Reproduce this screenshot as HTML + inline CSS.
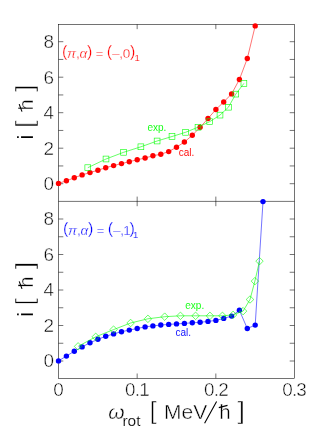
<!DOCTYPE html>
<html><head><meta charset="utf-8"><title>plot</title>
<style>html,body{margin:0;padding:0;background:#fff}svg{display:block;will-change:transform}</style>
</head><body>
<svg width="332" height="438" viewBox="0 0 332 438">
<rect width="332" height="438" fill="#fff"/>
<g stroke="#000" stroke-width="0.55" fill="none">
<rect x="58.5" y="24.35" width="236.00" height="353.95"/>
<line x1="58.5" y1="201.4" x2="294.5" y2="201.4"/>
<path d="M58.5 183.70h4.8M294.5 183.70h-4.8M58.5 165.95h4.8M294.5 165.95h-4.8M58.5 148.20h4.8M294.5 148.20h-4.8M58.5 130.45h4.8M294.5 130.45h-4.8M58.5 112.70h4.8M294.5 112.70h-4.8M58.5 94.95h4.8M294.5 94.95h-4.8M58.5 77.20h4.8M294.5 77.20h-4.8M58.5 59.45h4.8M294.5 59.45h-4.8M58.5 41.70h4.8M294.5 41.70h-4.8M58.5 361.00h4.8M294.5 361.00h-4.8M58.5 343.25h4.8M294.5 343.25h-4.8M58.5 325.50h4.8M294.5 325.50h-4.8M58.5 307.75h4.8M294.5 307.75h-4.8M58.5 290.00h4.8M294.5 290.00h-4.8M58.5 272.25h4.8M294.5 272.25h-4.8M58.5 254.50h4.8M294.5 254.50h-4.8M58.5 236.75h4.8M294.5 236.75h-4.8M58.5 219.00h4.8M294.5 219.00h-4.8M137.17 24.35v4.8M137.17 196.6v9.6M137.17 378.3v-4.8M215.83 24.35v4.8M215.83 196.6v9.6M215.83 378.3v-4.8"/>
</g>
<polyline fill="none" stroke="#f00" stroke-width="0.55" points="58.5,183.4 66.4,180.8 74.3,177.8 82.1,174.9 90.0,172.6 97.9,170.2 105.7,167.7 113.6,165.6 121.5,163.6 129.3,161.7 137.2,159.8 145.1,158.0 152.9,155.8 160.8,154.2 168.7,151.6 176.5,147.2 184.4,142.0 192.3,135.3 200.1,127.3 208.0,118.5 215.9,109.5 223.7,102.0 231.6,93.9 239.4,79.5 247.3,58.5 255.2,25.9"/>
<g fill="#f00">
<circle cx="58.5" cy="183.4" r="2.7"/>
<circle cx="66.4" cy="180.8" r="2.7"/>
<circle cx="74.3" cy="177.8" r="2.7"/>
<circle cx="82.1" cy="174.9" r="2.7"/>
<circle cx="90.0" cy="172.6" r="2.7"/>
<circle cx="97.9" cy="170.2" r="2.7"/>
<circle cx="105.7" cy="167.7" r="2.7"/>
<circle cx="113.6" cy="165.6" r="2.7"/>
<circle cx="121.5" cy="163.6" r="2.7"/>
<circle cx="129.3" cy="161.7" r="2.7"/>
<circle cx="137.2" cy="159.8" r="2.7"/>
<circle cx="145.1" cy="158.0" r="2.7"/>
<circle cx="152.9" cy="155.8" r="2.7"/>
<circle cx="160.8" cy="154.2" r="2.7"/>
<circle cx="168.7" cy="151.6" r="2.7"/>
<circle cx="176.5" cy="147.2" r="2.7"/>
<circle cx="184.4" cy="142.0" r="2.7"/>
<circle cx="192.3" cy="135.3" r="2.7"/>
<circle cx="200.1" cy="127.3" r="2.7"/>
<circle cx="208.0" cy="118.5" r="2.7"/>
<circle cx="215.9" cy="109.5" r="2.7"/>
<circle cx="223.7" cy="102.0" r="2.7"/>
<circle cx="231.6" cy="93.9" r="2.7"/>
<circle cx="239.4" cy="79.5" r="2.7"/>
<circle cx="247.3" cy="58.5" r="2.7"/>
<circle cx="255.2" cy="25.9" r="2.7"/>
</g>
<polyline fill="none" stroke="#0f0" stroke-width="0.6" points="87.8,167.7 106.0,159.0 123.6,152.3 140.9,146.8 157.1,141.0 172.0,136.5 185.6,132.3 198.0,127.2 209.7,121.7 220.0,115.1 228.4,107.2 235.8,94.1 243.9,83.4"/>
<g fill="none" stroke="#0f0" stroke-width="0.6">
<rect x="84.9" y="164.8" width="5.8" height="5.8"/>
<rect x="103.1" y="156.1" width="5.8" height="5.8"/>
<rect x="120.7" y="149.4" width="5.8" height="5.8"/>
<rect x="138.0" y="143.9" width="5.8" height="5.8"/>
<rect x="154.2" y="138.1" width="5.8" height="5.8"/>
<rect x="169.1" y="133.6" width="5.8" height="5.8"/>
<rect x="182.7" y="129.4" width="5.8" height="5.8"/>
<rect x="195.1" y="124.3" width="5.8" height="5.8"/>
<rect x="206.8" y="118.8" width="5.8" height="5.8"/>
<rect x="217.1" y="112.2" width="5.8" height="5.8"/>
<rect x="225.5" y="104.3" width="5.8" height="5.8"/>
<rect x="232.9" y="91.2" width="5.8" height="5.8"/>
<rect x="241.0" y="80.5" width="5.8" height="5.8"/>
</g>
<polyline fill="none" stroke="#00f" stroke-width="0.55" points="58.5,360.9 66.4,356.1 74.3,351.2 82.1,346.9 90.0,342.8 97.9,339.3 105.7,336.3 113.6,333.9 121.5,331.7 129.3,330.1 137.2,328.5 145.1,326.9 152.9,325.9 160.8,325.0 168.7,324.4 176.5,323.9 184.4,323.4 192.3,322.8 200.1,322.3 208.0,321.4 215.9,320.4 223.7,318.4 231.6,316.1 239.4,310.3 247.3,328.5 255.2,325.1 263.0,201.6"/>
<g fill="#00f">
<circle cx="58.5" cy="360.9" r="2.7"/>
<circle cx="66.4" cy="356.1" r="2.7"/>
<circle cx="74.3" cy="351.2" r="2.7"/>
<circle cx="82.1" cy="346.9" r="2.7"/>
<circle cx="90.0" cy="342.8" r="2.7"/>
<circle cx="97.9" cy="339.3" r="2.7"/>
<circle cx="105.7" cy="336.3" r="2.7"/>
<circle cx="113.6" cy="333.9" r="2.7"/>
<circle cx="121.5" cy="331.7" r="2.7"/>
<circle cx="129.3" cy="330.1" r="2.7"/>
<circle cx="137.2" cy="328.5" r="2.7"/>
<circle cx="145.1" cy="326.9" r="2.7"/>
<circle cx="152.9" cy="325.9" r="2.7"/>
<circle cx="160.8" cy="325.0" r="2.7"/>
<circle cx="168.7" cy="324.4" r="2.7"/>
<circle cx="176.5" cy="323.9" r="2.7"/>
<circle cx="184.4" cy="323.4" r="2.7"/>
<circle cx="192.3" cy="322.8" r="2.7"/>
<circle cx="200.1" cy="322.3" r="2.7"/>
<circle cx="208.0" cy="321.4" r="2.7"/>
<circle cx="215.9" cy="320.4" r="2.7"/>
<circle cx="223.7" cy="318.4" r="2.7"/>
<circle cx="231.6" cy="316.1" r="2.7"/>
<circle cx="239.4" cy="310.3" r="2.7"/>
<circle cx="247.3" cy="328.5" r="2.7"/>
<circle cx="255.2" cy="325.1" r="2.7"/>
<circle cx="263.0" cy="201.6" r="2.7"/>
</g>
<polyline fill="none" stroke="#0f0" stroke-width="0.6" points="78.1,346.4 95.7,336.8 113.6,329.6 130.6,323.0 147.9,318.8 164.7,316.7 180.4,315.8 195.6,315.8 209.9,315.8 222.4,315.8 233.1,314.9 243.1,311.1 250.0,299.5 254.9,281.1 259.5,261.1"/>
<g fill="none" stroke="#0f0" stroke-width="0.6">
<path d="M74.3 346.4L78.1 342.6L81.8 346.4L78.1 350.1Z"/>
<path d="M92.0 336.8L95.7 333.1L99.5 336.8L95.7 340.6Z"/>
<path d="M109.8 329.6L113.6 325.9L117.3 329.6L113.6 333.4Z"/>
<path d="M126.8 323.0L130.6 319.2L134.3 323.0L130.6 326.8Z"/>
<path d="M144.2 318.8L147.9 315.1L151.7 318.8L147.9 322.6Z"/>
<path d="M160.9 316.7L164.7 312.9L168.4 316.7L164.7 320.4Z"/>
<path d="M176.7 315.8L180.4 312.1L184.2 315.8L180.4 319.6Z"/>
<path d="M191.8 315.8L195.6 312.1L199.3 315.8L195.6 319.6Z"/>
<path d="M206.2 315.8L209.9 312.1L213.7 315.8L209.9 319.6Z"/>
<path d="M218.7 315.8L222.4 312.1L226.2 315.8L222.4 319.6Z"/>
<path d="M229.3 314.9L233.1 311.1L236.8 314.9L233.1 318.6Z"/>
<path d="M239.3 311.1L243.1 307.4L246.8 311.1L243.1 314.9Z"/>
<path d="M246.2 299.5L250.0 295.8L253.8 299.5L250.0 303.2Z"/>
<path d="M251.2 281.1L254.9 277.4L258.6 281.1L254.9 284.9Z"/>
<path d="M255.8 261.1L259.5 257.4L263.2 261.1L259.5 264.9Z"/>
</g>
<g font-family="'Liberation Sans', sans-serif" fill="#000" stroke="#fff" stroke-width="0.45">
<g font-size="17.5" text-anchor="end">
<text transform="translate(53.9 190.0) scale(1.08 1)">0</text>
<text transform="translate(53.9 154.5) scale(1.08 1)">2</text>
<text transform="translate(53.9 119.0) scale(1.08 1)">4</text>
<text transform="translate(53.9 83.5) scale(1.08 1)">6</text>
<text transform="translate(53.9 48.0) scale(1.08 1)">8</text>
<text transform="translate(53.9 367.3) scale(1.08 1)">0</text>
<text transform="translate(53.9 331.8) scale(1.08 1)">2</text>
<text transform="translate(53.9 296.3) scale(1.08 1)">4</text>
<text transform="translate(53.9 260.8) scale(1.08 1)">6</text>
<text transform="translate(53.9 225.3) scale(1.08 1)">8</text>
</g>
<g font-size="17.5" text-anchor="middle" letter-spacing="-0.75">
<text transform="translate(58.2 396) scale(1.08 1)">0</text>
<text transform="translate(137.0 396) scale(1.08 1)">0.1</text>
<text transform="translate(216.0 396) scale(1.08 1)">0.2</text>
<text transform="translate(294.1 396) scale(1.08 1)">0.3</text>
</g>
<g transform="translate(33.1 112.9) rotate(-90)">
<text x="-26.6" y="0" font-size="21.4" stroke-width="0.1">i</text><text transform="translate(-15.2 0) scale(1.1 1)" font-size="24.2" stroke-width="0.55">[</text><text x="2.5" y="0" font-size="20.2">h</text><text transform="translate(21.0 0) scale(1.1 1)" font-size="24.2" stroke-width="0.55">]</text>
<path d="M1.3 -11.1L8.8 -13.9" stroke="#000" stroke-width="1.1"/>
</g>
<g transform="translate(33.1 290.2) rotate(-90)">
<text x="-26.6" y="0" font-size="21.4" stroke-width="0.1">i</text><text transform="translate(-15.2 0) scale(1.1 1)" font-size="24.2" stroke-width="0.55">[</text><text x="2.5" y="0" font-size="20.2">h</text><text transform="translate(21.0 0) scale(1.1 1)" font-size="24.2" stroke-width="0.55">]</text>
<path d="M1.3 -11.1L8.8 -13.9" stroke="#000" stroke-width="1.1"/>
</g>
<g font-size="21">
<text x="108.3" y="419" font-style="italic">ω</text><text x="122.4" y="426.2" font-size="15.5" stroke-width="0.2">rot</text>
<text transform="translate(149.5 418.8) scale(1.1 1)" font-size="24.2" stroke-width="0.55">[</text><text x="164" y="419">MeV</text><text x="219.3" y="419" font-size="20.5">h</text><text transform="translate(237.6 418.8) scale(1.1 1)" font-size="24.2" stroke-width="0.55">]</text>
<path d="M204.6 423.3L216.6 401.6M218.8 407.6L227.5 405.4" stroke="#000" stroke-width="1.1" fill="none"/>
</g>
</g>
<g font-family="'Liberation Sans', sans-serif" stroke="#fff">
<text x="62" y="57.7" font-size="13.5" letter-spacing="-0.22" stroke-width="0.3" fill="#f00"><tspan font-size="16" dy="-0.7">(</tspan><tspan dy="0.7" font-style="italic">π</tspan>,<tspan font-style="italic">α</tspan><tspan font-size="16" dy="-0.7">)</tspan><tspan dy="0.7"> = </tspan><tspan font-size="16" dy="-0.7">(</tspan><tspan dy="0.7">–,0</tspan><tspan font-size="16" dy="-0.7">)</tspan><tspan font-size="9.5" dy="3.9" dx="-0.6" stroke-width="0.15">1</tspan></text>
<text x="63" y="234.7" font-size="13.5" letter-spacing="-0.22" stroke-width="0.3" fill="#00f"><tspan font-size="16" dy="-0.7">(</tspan><tspan dy="0.7" font-style="italic">π</tspan>,<tspan font-style="italic">α</tspan><tspan font-size="16" dy="-0.7">)</tspan><tspan dy="0.7"> = </tspan><tspan font-size="16" dy="-0.7">(</tspan><tspan dy="0.7">–,<tspan dx="-0.6">1</tspan></tspan><tspan font-size="16" dy="-0.7" dx="-0.9">)</tspan><tspan font-size="9.5" dy="3.9" dx="-1.6" stroke-width="0.15">1</tspan></text>
<text x="147.5" y="131.3" font-size="10" stroke-width="0.05" fill="#0f0">exp.</text>
<text x="178.7" y="155.9" font-size="10" stroke-width="0.05" fill="#f00">cal.</text>
<text x="185.3" y="308.6" font-size="10" stroke-width="0.05" fill="#0f0">exp.</text>
<text x="175.5" y="336.4" font-size="10" stroke-width="0.05" fill="#00f">cal.</text>
</g>
</svg>
</body></html>
